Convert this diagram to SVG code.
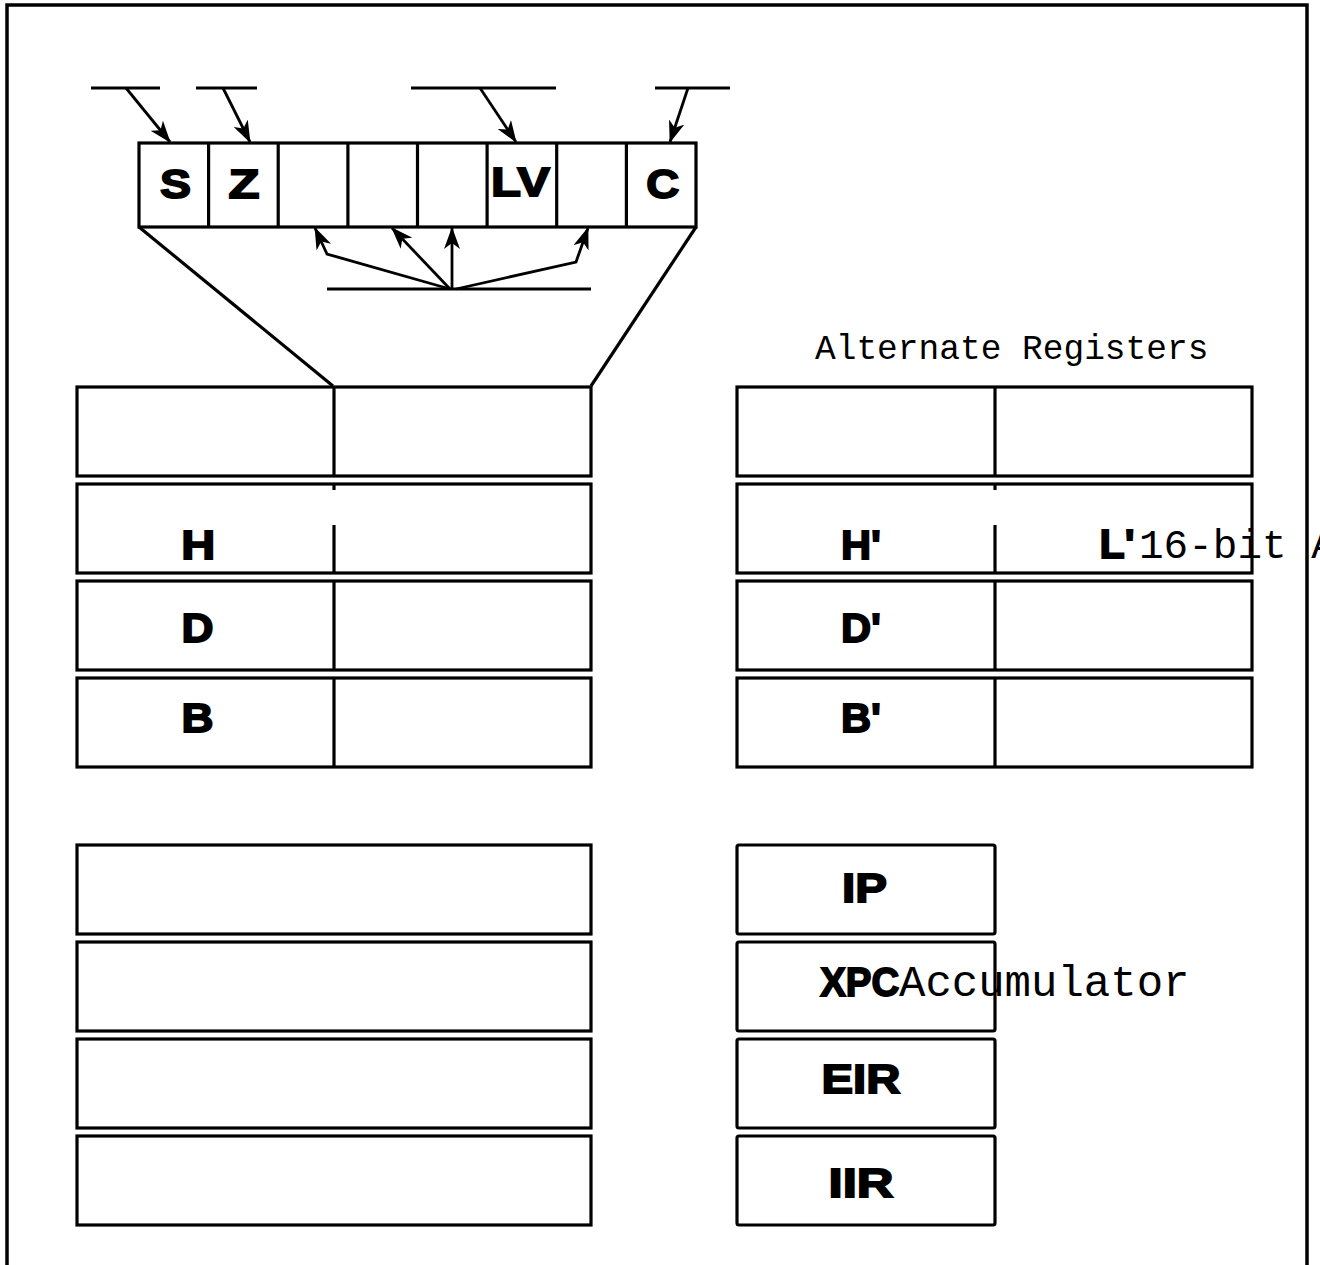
<svg xmlns="http://www.w3.org/2000/svg" width="1320" height="1265" viewBox="0 0 1320 1265">
<style>
.frame{fill:none;stroke:#000;stroke-width:3.5}
.box{fill:#fff;stroke:#000;stroke-width:3.2}
.ln{fill:none;stroke:#000;stroke-width:3.2}
.cn{fill:none;stroke:#000;stroke-width:2.8}
.lbl{font-family:"Liberation Sans",Arial,sans-serif;font-weight:bold;font-size:41px;text-anchor:middle;fill:#000;stroke:#000;stroke-width:1.8}
.mono{font-family:"Liberation Mono","Courier New",monospace;fill:#000}
</style>
<defs>
<marker id="ah" markerUnits="userSpaceOnUse" markerWidth="22" markerHeight="16" refX="21" refY="8" orient="auto">
<path d="M0,0 L22,8 L0,16 L6,8 z" fill="#000"/>
</marker>
</defs>
<rect width="1320" height="1265" fill="#fff"/>
<rect class="frame" x="7" y="5" width="1300" height="1300"/>

<g id="connectors">
<line class="ln" x1="91" y1="88" x2="160" y2="88"/>
<line class="ln" x1="196" y1="88" x2="257" y2="88"/>
<line class="ln" x1="411" y1="88" x2="556" y2="88"/>
<line class="ln" x1="655" y1="88" x2="730" y2="88"/>
<line class="cn" x1="126" y1="88" x2="170" y2="142" marker-end="url(#ah)"/>
<line class="cn" x1="223" y1="88" x2="250" y2="142" marker-end="url(#ah)"/>
<line class="cn" x1="480" y1="88" x2="516" y2="142" marker-end="url(#ah)"/>
<line class="cn" x1="688" y1="88" x2="670" y2="142" marker-end="url(#ah)"/>
<line class="ln" x1="327" y1="289" x2="591" y2="289"/>
<line class="cn" x1="452" y1="289" x2="452" y2="228" marker-end="url(#ah)"/>
<line class="cn" x1="450" y1="289" x2="392" y2="228" marker-end="url(#ah)"/>
<polyline class="cn" points="450,289 327,254 315,228" marker-end="url(#ah)"/>
<polyline class="cn" points="456,289 576,262 588,228" marker-end="url(#ah)"/>
<line class="ln" x1="139" y1="227" x2="333" y2="386"/>
<line class="ln" x1="696" y1="227" x2="591" y2="386"/>
</g>

<g id="flags">
<rect class="box" x="139" y="143" width="557" height="84"/>
<line class="ln" x1="208.6" y1="143" x2="208.6" y2="227"/>
<line class="ln" x1="278.2" y1="143" x2="278.2" y2="227"/>
<line class="ln" x1="347.9" y1="143" x2="347.9" y2="227"/>
<line class="ln" x1="417.5" y1="143" x2="417.5" y2="227"/>
<line class="ln" x1="487.1" y1="143" x2="487.1" y2="227"/>
<line class="ln" x1="556.7" y1="143" x2="556.7" y2="227"/>
<line class="ln" x1="626.4" y1="143" x2="626.4" y2="227"/>
<text class="lbl" x="175.5" y="197.5" textLength="31" lengthAdjust="spacingAndGlyphs">S</text>
<text class="lbl" x="244" y="197.5" textLength="31" lengthAdjust="spacingAndGlyphs">Z</text>
<text class="lbl" x="520.5" y="195.5" textLength="59" lengthAdjust="spacingAndGlyphs">LV</text>
<text class="lbl" x="662.8" y="197.5" textLength="33" lengthAdjust="spacingAndGlyphs">C</text>
</g>

<g id="main-regs">
<g id="main-af">
<rect class="box" x="77" y="387" width="514" height="89"/>
<line class="ln" x1="334" y1="387" x2="334" y2="476"/>
</g>
<g id="main-hl">
<rect class="box" x="77" y="484" width="514" height="89"/>
<line class="ln" x1="334" y1="484" x2="334" y2="490"/>
<line class="ln" x1="334" y1="525" x2="334" y2="573"/>
<text class="lbl" x="198.3" y="559" textLength="34" lengthAdjust="spacingAndGlyphs">H</text>
</g>
<g id="main-de">
<rect class="box" x="77" y="581" width="514" height="89"/>
<line class="ln" x1="334" y1="581" x2="334" y2="670"/>
<text class="lbl" x="197.5" y="641.5" textLength="32" lengthAdjust="spacingAndGlyphs">D</text>
</g>
<g id="main-bc">
<rect class="box" x="77" y="678" width="514" height="89"/>
<line class="ln" x1="334" y1="678" x2="334" y2="767"/>
<text class="lbl" x="197.5" y="731.5" textLength="32" lengthAdjust="spacingAndGlyphs">B</text>
</g>
</g>

<g id="alt-regs">
<text class="mono" x="815" y="359" font-size="34.5">Alternate Registers</text>
<g id="alt-af">
<rect class="box" x="737" y="387" width="515" height="89"/>
<line class="ln" x1="995" y1="387" x2="995" y2="476"/>
</g>
<g id="alt-hl">
<rect class="box" x="737" y="484" width="515" height="89"/>
<line class="ln" x1="995" y1="484" x2="995" y2="490"/>
<line class="ln" x1="995" y1="525" x2="995" y2="573"/>
<text class="lbl" x="861" y="559" textLength="40" lengthAdjust="spacingAndGlyphs">H'</text>
<text class="lbl" x="1117" y="558" textLength="35" lengthAdjust="spacingAndGlyphs">L'</text>
<text class="mono" x="1139" y="558" font-size="41">16-bit A</text>
</g>
<g id="alt-de">
<rect class="box" x="737" y="581" width="515" height="89"/>
<line class="ln" x1="995" y1="581" x2="995" y2="670"/>
<text class="lbl" x="861" y="641.5" textLength="40" lengthAdjust="spacingAndGlyphs">D'</text>
</g>
<g id="alt-bc">
<rect class="box" x="737" y="678" width="515" height="89"/>
<line class="ln" x1="995" y1="678" x2="995" y2="767"/>
<text class="lbl" x="861" y="731.5" textLength="40" lengthAdjust="spacingAndGlyphs">B'</text>
</g>
</g>

<g id="index-regs">
<rect id="ix" class="box" x="77" y="845" width="514" height="89"/>
<rect id="iy" class="box" x="77" y="942" width="514" height="89"/>
<rect id="sp" class="box" x="77" y="1039" width="514" height="89"/>
<rect id="pc" class="box" x="77" y="1136" width="514" height="89"/>
</g>

<g id="special-regs">
<g id="ip"><rect class="box" x="737" y="845" width="258" height="89" rx="2"/>
<text class="lbl" x="864.5" y="901.5" textLength="45" lengthAdjust="spacingAndGlyphs">IP</text></g>
<g id="xpc"><rect class="box" x="737" y="942" width="258" height="89" rx="2"/>
<text class="lbl" x="859.7" y="996" textLength="79" lengthAdjust="spacingAndGlyphs">XPC</text>
<text class="mono" x="899" y="996" font-size="44">Accumulator</text></g>
<g id="eir"><rect class="box" x="737" y="1039" width="258" height="89" rx="2"/>
<text class="lbl" x="861" y="1093" textLength="79" lengthAdjust="spacingAndGlyphs">EIR</text></g>
<g id="iir"><rect class="box" x="737" y="1136" width="258" height="89" rx="2"/>
<text class="lbl" x="861" y="1197" textLength="65" lengthAdjust="spacingAndGlyphs">IIR</text></g>
</g>
</svg>
